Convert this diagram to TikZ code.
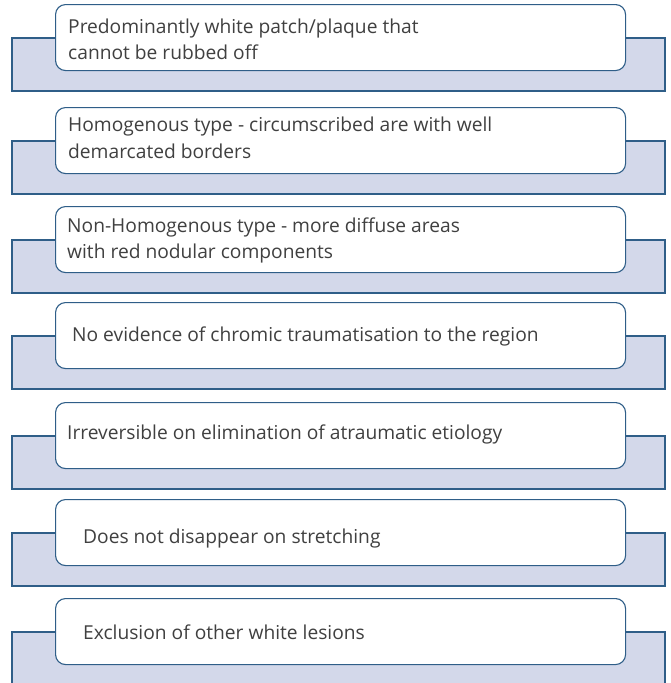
\documentclass[tikz,border=0pt]{standalone}
\usepackage{fontspec}
\setmainfont{Open Sans}
\definecolor{bandfill}{HTML}{D3D8EA}
\definecolor{edgeblue}{HTML}{2F5E88}
\definecolor{inkgray}{HTML}{404040}
\begin{document}
\begin{tikzpicture}[x=1pt,y=-1pt,
  band/.style={draw=edgeblue,fill=bandfill,line width=1.1pt},
  card/.style={draw=edgeblue,fill=white,line width=1.1pt,rounded corners=10pt},
  label/.style={anchor=base west,inner sep=0pt,text=inkgray,font=\fontsize{19.2}{27}\selectfont}]
\useasboundingbox (0,0) rectangle (670,683);
\clip (0,0) rectangle (670,683);
% one band plus card per criterion; tops of the cards
\foreach \t [count=\i] in {4,107,206,302,402,499,598}{
  \draw[band] (12,\t+34) rectangle (665,\t+87);
  \node[card,minimum width=570pt,minimum height=66pt,anchor=north west,inner sep=0pt] (card\i) at (55,\t) {};
}
\node[label] (t1a) at (68,33) {Predominantly white patch/plaque that};
\node[label] (t1b) at (68,59) {cannot be rubbed off};
\node[label] (t2a) at (68,131) {Homogenous type - circumscribed are with well};
\node[label] (t2b) at (68,158) {demarcated borders};
\node[label] (t3a) at (67,232) {Non-Homogenous type - more diffuse areas};
\node[label] (t3b) at (67,258) {with red nodular components};
\node[label] (t4) at (72,341) {No evidence of chromic traumatisation to the region};
\node[label] (t5) at (67,439) {Irreversible on elimination of atraumatic etiology};
\node[label] (t6) at (83,543) {Does not disappear on stretching};
\node[label] (t7) at (83,639) {Exclusion of other white lesions};
\end{tikzpicture}
\end{document}
